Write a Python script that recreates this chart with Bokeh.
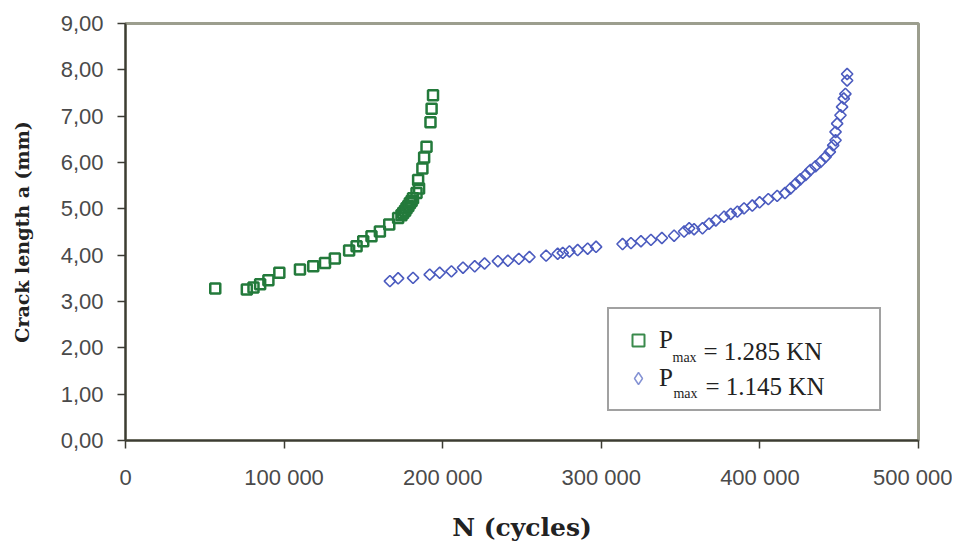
import math
from bokeh.plotting import figure
from bokeh.models import Legend, LegendItem, FixedTicker, Range1d
from bokeh.core.properties import value
from bokeh.embed import file_html
from bokeh.resources import INLINE

# ---- data ----
green_n = [56600, 76500, 80700, 84900, 90100, 97000, 110000, 118400, 125800, 132000,
           141000, 145700, 149900, 155100, 160400, 166300, 171900, 174000, 175100, 176300,
           177200, 178300, 179300, 180400, 181300, 183500, 185100, 184500, 187200, 188300,
           189800, 192300, 193000, 193900]
green_a = [3.28, 3.26, 3.30, 3.37, 3.46, 3.62, 3.69, 3.76, 3.83, 3.93,
           4.10, 4.19, 4.30, 4.41, 4.51, 4.66, 4.80, 4.86, 4.91, 4.96,
           5.01, 5.06, 5.12, 5.17, 5.23, 5.34, 5.44, 5.62, 5.87, 6.11,
           6.34, 6.87, 7.16, 7.45]

blue_n = [166700, 171900, 181300, 191800, 198100, 205500, 212800, 220200, 226400, 234800,
          241100, 248000, 254700, 265200, 272500, 275700, 279900, 285100, 291400, 296700,
          313400, 318700, 325000, 331300, 338200, 345900, 352200, 355400, 358500, 363800,
          368000, 372200, 377400, 381600, 385800, 390000, 395200, 399800, 405300, 410900,
          415800, 419300, 422500, 425600, 428800, 431900, 435100, 438200, 441400, 444100,
          446200, 447700, 447700, 448700, 450800, 451800, 452900, 453900, 455000, 455000]
blue_a = [3.44, 3.50, 3.51, 3.58, 3.62, 3.65, 3.73, 3.76, 3.82, 3.87,
          3.88, 3.92, 3.96, 3.99, 4.03, 4.05, 4.08, 4.11, 4.14, 4.18,
          4.24, 4.26, 4.30, 4.33, 4.37, 4.42, 4.51, 4.58, 4.56, 4.58,
          4.68, 4.75, 4.83, 4.89, 4.94, 5.01, 5.07, 5.14, 5.21, 5.28,
          5.34, 5.44, 5.54, 5.64, 5.73, 5.84, 5.92, 6.01, 6.12, 6.23,
          6.37, 6.48, 6.66, 6.84, 7.02, 7.20, 7.38, 7.48, 7.77, 7.91]

x_ticks = [0, 100000, 200000, 300000, 400000, 500000]
x_tick_labels = ["0", "100 000", "200 000", "300 000", "400 000", "500 000"]
y_ticks = [0, 1, 2, 3, 4, 5, 6, 7, 8, 9]
y_tick_labels = ["0,00", "1,00", "2,00", "3,00", "4,00", "5,00", "6,00", "7,00", "8,00", "9,00"]

series_labels = ["P", "P"]
series_rest = ["= 1.285 KN", "= 1.145 KN"]
sub_label = "max"

GREEN = "#237a3b"
BLUE = "#4b5bbf"
NAN = float("nan")

p = figure(width=952, height=544, output_backend="svg", toolbar_location=None,
           x_range=Range1d(0, 500000), y_range=Range1d(0, 9),
           min_border_left=125, min_border_right=34, min_border_top=23, min_border_bottom=102)
p.background_fill_color = "white"
p.border_fill_color = "white"
p.xgrid.visible = False
p.ygrid.visible = False
p.outline_line_color = "#9c9e8e"
p.outline_line_width = 3

r1 = p.scatter(green_n, green_a, marker="square", size=10, fill_color="white", fill_alpha=0,
               line_color=GREEN, line_width=2.5)
r2 = p.scatter(blue_n, blue_a, marker="square", angle=math.pi / 4, size=8, fill_color="white",
               fill_alpha=0, line_color=BLUE, line_width=1.6)

# legend-only glyph styles (NaN position: nothing drawn in the plot)
lg1 = p.scatter(x=[NAN], y=[NAN], marker="square", fill_alpha=0, line_color="#3a8a4c", line_width=2)
lg2 = p.scatter(x=[NAN], y=[NAN], marker="diamond", fill_alpha=0, line_color="#8593d4", line_width=1.5)

for ax in (p.xaxis[0], p.yaxis[0]):
    ax.axis_line_color = "#3c3c34"
    ax.axis_line_width = 2
    ax.major_tick_line_color = "#3c3c34"
    ax.major_tick_line_width = 1.5
    ax.major_tick_out = 8
    ax.major_tick_in = 0
    ax.minor_tick_out = 0
    ax.minor_tick_in = 0
    ax.major_label_text_font = "Liberation Sans"
    ax.major_label_text_font_size = "22px"
    ax.major_label_text_color = "#4a4a4a"
    ax.axis_label_text_font = "DejaVu Serif"
    ax.axis_label_text_font_style = "bold"
    ax.axis_label_text_color = "#222222"

p.xaxis.ticker = FixedTicker(ticks=x_ticks)
p.xaxis.major_label_overrides = {t: l for t, l in zip(x_ticks, x_tick_labels)}
p.yaxis.ticker = FixedTicker(ticks=y_ticks)
p.yaxis.major_label_overrides = {t: l for t, l in zip(y_ticks, y_tick_labels)}
p.xaxis.major_label_standoff = 16
p.yaxis.major_label_standoff = 14
p.xaxis.axis_label = "N (cycles)"
p.xaxis.axis_label_text_font_size = "25px"
p.xaxis.axis_label_standoff = 20
p.yaxis.axis_label = "Crack length a (mm)"
p.yaxis.axis_label_text_font_size = "19px"
p.yaxis.axis_label_standoff = 25

# legend text pieces drawn as text glyphs (positions in data space, inside the legend box)
sub_x = [344900, 345500]
sub_y = [1.80, 1.01]
rest_x = [364400, 365700]
rest_y = [1.93, 1.16]
p.text(x=sub_x, y=sub_y, text=[sub_label, sub_label], text_font=value("Liberation Serif"),
       text_font_size="14px", text_color="#222222", text_baseline="alphabetic")
p.text(x=rest_x, y=rest_y, text=series_rest, text_font=value("Liberation Serif"),
       text_font_size="25px", text_color="#222222", text_baseline="alphabetic")

legend = Legend(items=[LegendItem(label=series_labels[0], renderers=[lg1]),
                       LegendItem(label=series_labels[1], renderers=[lg2])],
                location=(482, 29), margin=0, padding=14, spacing=4,
                glyph_width=30, glyph_height=34, label_height=34, label_width=206,
                label_standoff=6,
                label_text_font="Liberation Serif", label_text_font_size="25px",
                label_text_color="#222222",
                border_line_color="#444444", border_line_width=2,
                background_fill_alpha=0)
p.add_layout(legend, "center")

open("out.html", "w").write(file_html(p, INLINE))
